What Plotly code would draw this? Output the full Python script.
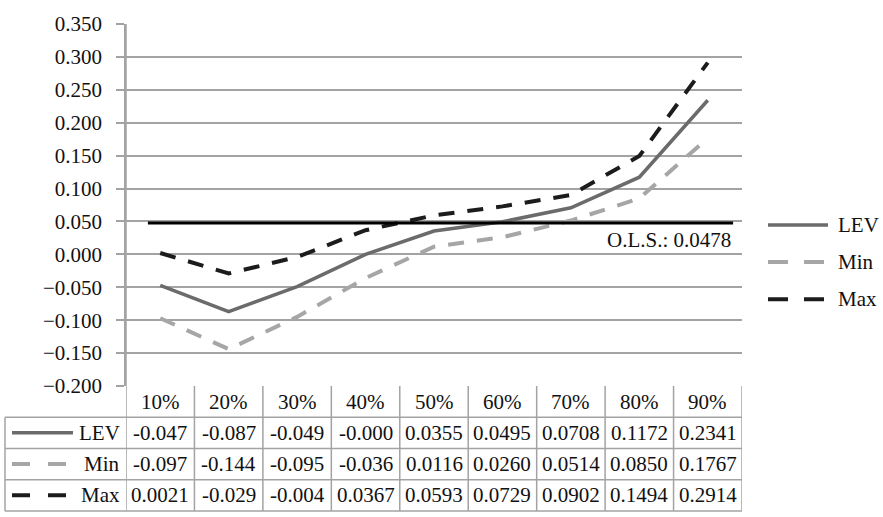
import plotly.graph_objects as go

# Quantile levels and estimated coefficients (as printed in the data table)
quantiles = ["10%", "20%", "30%", "40%", "50%", "60%", "70%", "80%", "90%"]
lev_txt = ["-0.047", "-0.087", "-0.049", "-0.000", "0.0355", "0.0495", "0.0708", "0.1172", "0.2341"]
min_txt = ["-0.097", "-0.144", "-0.095", "-0.036", "0.0116", "0.0260", "0.0514", "0.0850", "0.1767"]
max_txt = ["0.0021", "-0.029", "-0.004", "0.0367", "0.0593", "0.0729", "0.0902", "0.1494", "0.2914"]
ols_value = 0.0478

lev = [float(s) for s in lev_txt]
vmin = [float(s) for s in min_txt]
vmax = [float(s) for s in max_txt]

FONT = "Liberation Serif"
FS = 21
GRID = "#a3a3a3"
TXT = dict(family=FONT, size=FS, color="#111")

series = [
    ("LEV", lev, lev_txt, dict(color="#6b6b6b", width=3.5, dash="solid")),
    ("Min", vmin, min_txt, dict(color="#a6a6a6", width=4, dash="16px,13px")),
    ("Max", vmax, max_txt, dict(color="#1c1c1c", width=4, dash="16px,13px")),
]

fig = go.Figure()
for name, vals, _, line in series:
    fig.add_trace(go.Scatter(x=quantiles, y=vals, mode="lines", name=name,
                             line=line, showlegend=False))

shapes = []
annotations = []

# O.L.S. reference line
shapes.append(dict(type="line", xref="x", yref="y", x0=-0.18, x1=8.37,
                   y0=ols_value, y1=ols_value, line=dict(color="black", width=3)))
annotations.append(dict(xref="x", yref="y", x=8.37, y=ols_value, text=f"O.L.S.: {ols_value:.4f}",
                        showarrow=False, xanchor="right", yanchor="top", yshift=-3, font=TXT))

# Data table below the plot: positions in paper units (plot area is 616 x 371 px)
PH = 371.0
PW = 616.0
def py(px):
    return (386 - px) / PH
def pxp(px):
    return (px - 126) / PW

row_edges = [386, 418, 450, 482, 514]
for e in row_edges[1:]:
    shapes.append(dict(type="line", xref="paper", yref="paper", x0=pxp(5), x1=1,
                       y0=py(e), y1=py(e), line=dict(color=GRID, width=1.5)))
shapes.append(dict(type="line", xref="paper", yref="paper", x0=pxp(5), x1=pxp(5),
                   y0=py(418), y1=py(514), line=dict(color=GRID, width=1.5)))
for k in range(len(quantiles) + 1):
    shapes.append(dict(type="line", xref="x", yref="paper", x0=k - 0.5, x1=k - 0.5,
                       y0=py(514), y1=0 if k else 1, line=dict(color=GRID, width=1.5)))

# header row
for q in quantiles:
    annotations.append(dict(xref="x", yref="paper", x=q, y=py(402), text=q, showarrow=False,
                            xanchor="center", yanchor="middle", font=TXT))

for r, (name, vals, txts, line) in enumerate(series):
    yc = py(434 + 32 * r)
    for q, t in zip(quantiles, txts):
        annotations.append(dict(xref="x", yref="paper", x=q, y=yc, text=t, showarrow=False,
                                xanchor="center", yanchor="middle", font=TXT))
    # row key: line sample + series name
    key_line = dict(line)
    if key_line["dash"] != "solid":
        key_line["dash"] = "18px,18px"
    shapes.append(dict(type="line", xref="paper", yref="paper", x0=pxp(12),
                       x1=pxp(73 if r == 0 else 67), y0=yc, y1=yc, line=key_line))
    annotations.append(dict(xref="paper", yref="paper", x=pxp(122), y=yc, text=name,
                            showarrow=False, xanchor="right", yanchor="middle", font=TXT))
    # legend on the right
    leg_line = dict(line)
    if leg_line["dash"] != "solid":
        leg_line["dash"] = "20px,16px"
    ly = py(221 + 38 * r)
    shapes.append(dict(type="line", xref="paper", yref="paper", x0=pxp(768), x1=pxp(828),
                       y0=ly, y1=ly, line=leg_line))
    annotations.append(dict(xref="paper", yref="paper", x=pxp(836), y=ly, text=name,
                            showarrow=False, xanchor="left", yanchor="middle", font=TXT))

fig.update_layout(
    width=883, height=517,
    margin=dict(l=126, r=141, t=15, b=131),
    paper_bgcolor="white", plot_bgcolor="white",
    font=TXT,
    shapes=shapes, annotations=annotations,
    xaxis=dict(type="category", categoryorder="array", categoryarray=quantiles,
               range=[-0.5, 8.5], showgrid=False, showticklabels=False, ticks="",
               zeroline=False, showline=False),
    yaxis=dict(range=[-0.2, 0.35], dtick=0.05, tick0=0, tickformat=".3f",
               showgrid=True, gridcolor=GRID, gridwidth=1.5,
               ticks="outside", ticklen=8, tickcolor=GRID, tickwidth=1.5,
               ticklabelstandoff=10,
               showline=True, linecolor=GRID, linewidth=1.5,
               zeroline=False, tickfont=TXT),
)

fig.write_html("out.html")
